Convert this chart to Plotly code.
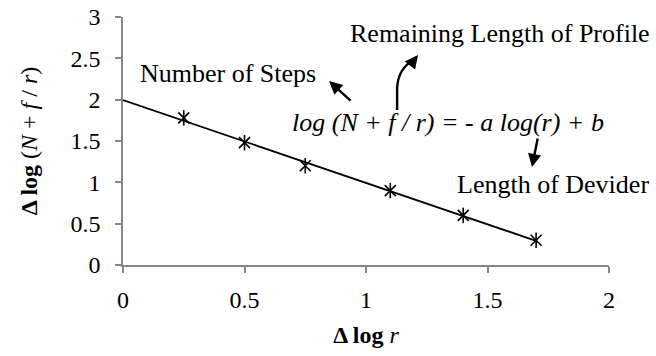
import numpy as np
import plotly.graph_objects as go

# data
log_r = [0.25, 0.5, 0.75, 1.1, 1.4, 1.7]
log_n = [1.78, 1.48, 1.2, 0.9, 0.6, 0.3]
x_ticks = [0, 0.5, 1, 1.5, 2]
y_ticks = [0, 0.5, 1, 1.5, 2, 2.5, 3]

FONT = "Liberation Serif"
GRAY = "#868686"

# linear trendline (like Excel), drawn from 0 to the last point
slope, icpt = np.polyfit(log_r, log_n, 1)
fit_x = np.array([0, max(log_r)])
fit_y = slope * fit_x + icpt

fig = go.Figure()
fig.add_trace(go.Scatter(x=fit_x, y=fit_y, mode="lines",
                         line=dict(color="black", width=1.8), hoverinfo="skip"))
# excel "star" marker = x with a vertical bar
for sym in ["x-thin-open", "line-ns-open"]:
    fig.add_trace(go.Scatter(
        x=log_r, y=log_n, mode="markers",
        marker=dict(symbol=sym, size=11, color="black",
                    line=dict(color="black", width=1.6)),
    ))

txt = dict(family=FONT, size=26, color="black")
notes = [
    (0.926, 2.806, "Remaining Length of Profile"),
    (0.062, 2.322, "Number of Steps"),
    (0.687, 1.718, "<i>log (N + f / r) = - a log(r) + b</i>"),
    (1.366, 0.968, "Length of Devider"),
]
for nx, ny, t in notes:
    fig.add_annotation(x=nx, y=ny, text=t, showarrow=False,
                       xanchor="left", yanchor="middle", font=txt)

# arrows
arrow = dict(showarrow=True, arrowhead=2, arrowsize=1.1, arrowwidth=2.4,
             arrowcolor="black", text="", xref="x", yref="y")
fig.add_annotation(x=0.848, y=2.226, ax=23, ay=21, **arrow)
fig.add_annotation(x=1.683, y=1.185, ax=6, ay=-30, **arrow)
# curved arrow to "Remaining Length of Profile"
fig.add_shape(type="path", xref="x", yref="y",
              path="M 1.128,1.874 L 1.128,2.141 Q 1.132,2.383 1.198,2.48",
              line=dict(color="black", width=2.4))
fig.add_annotation(x=1.214, y=2.54, ax=-7, ay=9, **arrow)

fig.update_layout(
    width=656, height=356,
    margin=dict(l=123, r=47, t=17, b=91),
    paper_bgcolor="white", plot_bgcolor="white",
    showlegend=False,
    font=dict(family=FONT, size=24, color="black"),
)
fig.update_xaxes(
    range=[0, 2], tickvals=x_ticks, ticktext=[f"{v:g}" for v in x_ticks],
    showgrid=False, zeroline=False, showline=True, linecolor=GRAY, linewidth=1.5,
    ticks="outside", tickcolor=GRAY, ticklen=6, tickwidth=1.5, automargin=False,
    tickfont=dict(family=FONT, size=24), ticklabelstandoff=6,
    title=dict(text="<b>Δ log</b> <i>r</i>", standoff=15,
               font=dict(family=FONT, size=24)),
)
fig.update_yaxes(
    range=[0, 3], tickvals=y_ticks, ticktext=[f"{v:g}" for v in y_ticks],
    showgrid=False, zeroline=False, showline=True, linecolor=GRAY, linewidth=1.5,
    ticks="outside", tickcolor=GRAY, ticklen=6, tickwidth=1.5, automargin=False,
    tickfont=dict(family=FONT, size=24), ticklabelstandoff=10,
    title=dict(text="<b>Δ log</b> (<i>N</i> + <i>f</i> / <i>r</i>)", standoff=26,
               font=dict(family=FONT, size=24)),
)

# drop the default 8px page margin so the figure sits at the window's corner
fig.write_html("out.html", config={"displayModeBar": False},
               post_script="document.body.style.margin='0';")
